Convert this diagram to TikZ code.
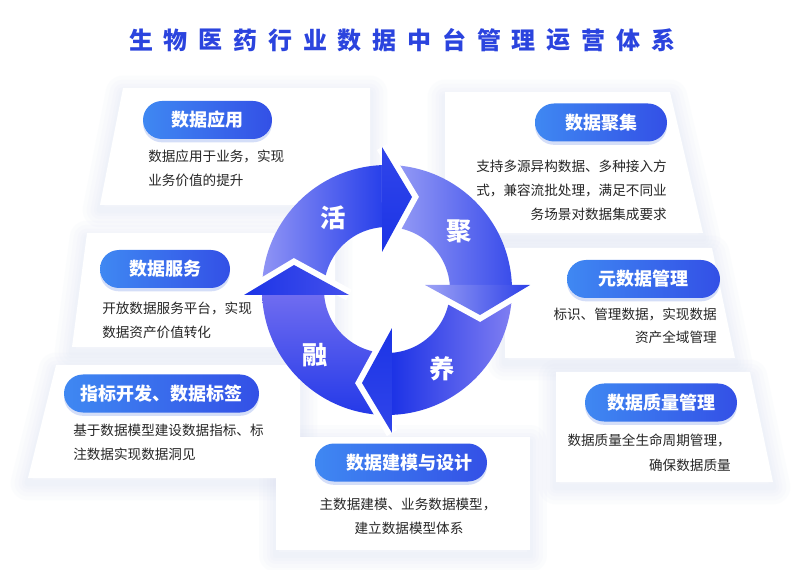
\documentclass[tikz,border=0pt]{standalone}
\usepackage{fontspec}
\setmainfont{Noto Sans CJK SC}
\usetikzlibrary{shadows}
\definecolor{titleC}{HTML}{2B44DE}
\definecolor{descC}{HTML}{262626}
\definecolor{pillL}{HTML}{3F88F2}
\definecolor{pillR}{HTML}{3350E6}
\definecolor{pshadow}{HTML}{C3D0F6}
\definecolor{panelsh}{HTML}{D3DBF0}
\definecolor{huoL}{HTML}{9296F5}
\definecolor{huoR}{HTML}{2840EA}
\definecolor{juT}{HTML}{6F6CF0}
\definecolor{juB}{HTML}{2238E8}
\definecolor{yangR}{HTML}{8280F2}
\definecolor{yangL}{HTML}{1D33E6}
\definecolor{rongL}{HTML}{A0A4F6}
\definecolor{rongR}{HTML}{3A4DEB}
\definecolor{headD}{HTML}{1C34E6}
\definecolor{headO}{HTML}{3045EA}
\definecolor{headL}{HTML}{4450EC}
\definecolor{headRL}{HTML}{9EA3F5}
\definecolor{headRD}{HTML}{2C40E8}
\tikzset{
  titlechar/.style={inner sep=0pt, text=titleC, font=\fontsize{18pt}{20pt}\selectfont\bfseries},
  pill/.style={rounded corners=14.25pt, minimum height=28.5pt, inner sep=0pt, text=white,
    font=\fontsize{13.5pt}{15pt}\selectfont\bfseries, left color=pillL, right color=pillR,
    drop shadow={shadow xshift=0pt, shadow yshift=-2.5pt, fill=pshadow, opacity=0.7}},
  desc/.style={inner sep=0pt, text=descC, font=\fontsize{10.2pt}{12pt}\selectfont},
  cyc/.style={inner sep=0pt, text=white, font=\fontsize{19pt}{20pt}\selectfont\bfseries},
  gapline/.style={draw=white, line width=9pt, line join=miter},
}
\begin{document}
\begin{tikzpicture}[x=0.75pt,y=-0.75pt]
\useasboundingbox (0,0) rectangle (800,570);
\fill[white] (0,0) rectangle (800,570);
% panel shadows
\foreach \ax/\ay/\bx/\by/\cx/\cy/\dx/\dy in {
  123/88/370/88/370/205/100/205,
  87/233/335/233/335/347/72/347,
  56/365/300/365/300/478/28/478,
  276/437/530/437/530/550/276/550,
  445/92/670/92/703/233/445/233,
  505/248/712/248/735/358/505/358,
  556/372/750/372/773/482/556/482}{
  \foreach \w in {26,20,14,9,5}{
    \draw[panelsh, line width=\w pt, opacity=0.07, line join=round]
      (\ax,\ay+5) -- (\bx,\by+5) -- (\cx,\cy+5) -- (\dx,\dy+5) -- cycle;
  }
}
% panel faces
\foreach \ax/\ay/\bx/\by/\cx/\cy/\dx/\dy in {
  123/88/370/88/370/205/100/205,
  87/233/335/233/335/347/72/347,
  56/365/300/365/300/478/28/478,
  276/437/530/437/530/550/276/550,
  445/92/670/92/703/233/445/233,
  505/248/712/248/735/358/505/358,
  556/372/750/372/773/482/556/482}{
  \fill[white] (\ax,\ay) -- (\bx,\by) -- (\cx,\cy) -- (\dx,\dy) -- cycle;
}
% title
\foreach \c [count=\i from 0] in {生,物,医,药,行,业,数,据,中,台,管,理,运,营,体,系}{
  \node[titlechar] (t\i) at (141+34.8*\i,40) {\c};
}
% cycle
\begin{scope}[shift={(387,290)}, yscale=-1]
  % bodies
  \shade[left color=huoL, right color=huoR]
    (182.3:125) arc[start angle=182.3, end angle=92.3, radius=125]
    -- (94.55:63) arc[start angle=94.55, end angle=184.55, radius=63] -- cycle;
  \begin{scope}[rotate=-90]
  \shade[top color=juT, bottom color=juB]
    (182.3:125) arc[start angle=182.3, end angle=92.3, radius=125]
    -- (94.55:63) arc[start angle=94.55, end angle=184.55, radius=63] -- cycle;
  \end{scope}
  \begin{scope}[rotate=-180]
  \shade[left color=yangL, right color=yangR]
    (182.3:125) arc[start angle=182.3, end angle=92.3, radius=125]
    -- (94.55:63) arc[start angle=94.55, end angle=184.55, radius=63] -- cycle;
  \end{scope}
  \begin{scope}[rotate=-270]
  \shade[left color=rongL, right color=rongR]
    (182.3:125) arc[start angle=182.3, end angle=92.3, radius=125]
    -- (94.55:63) arc[start angle=94.55, end angle=184.55, radius=63] -- cycle;
  \end{scope}
  % heads
  \draw[gapline] (-5,143) -- (25,93) -- (-5,38);
  \shade[top color=headO, bottom color=headD] (-5,143) -- (25,93) -- (-5,38) -- cycle;
  \begin{scope}[rotate=-90]
  \draw[gapline] (-5,143) -- (25,93) -- (-5,38);
  \shade[left color=headD, right color=headL] (-5,143) -- (25,93) -- (-5,38) -- cycle;
  \end{scope}
  \begin{scope}[rotate=-180]
  \draw[gapline] (-5,143) -- (25,93) -- (-5,38);
  \shade[top color=headD, bottom color=headO] (-5,143) -- (25,93) -- (-5,38) -- cycle;
  \end{scope}
  \begin{scope}[rotate=-270]
  \draw[gapline] (-5,143) -- (25,93) -- (-5,38);
  \shade[left color=headRL, right color=headRD] (-5,143) -- (25,93) -- (-5,38) -- cycle;
  \end{scope}
\end{scope}
\node[cyc] (huo) at (333,218) {活};
\node[cyc] (ju) at (459,231) {聚};
\node[cyc] (rong) at (315,355) {融};
\node[cyc] (yang) at (442,369) {养};
% pills
\node[pill, minimum width=96.75pt] (p1) at (207.5,120) {数据应用};
\node[pill, minimum width=97.5pt] (p2) at (165,269) {数据服务};
\node[pill, minimum width=146.25pt] (p3) at (161.5,393.5) {指标开发、数据标签};
\node[pill, minimum width=129pt] (p4) at (401,462.5) {\hspace*{12pt}数据建模与设计};
\node[pill, minimum width=99pt] (p5) at (601,122.5) {数据聚集};
\node[pill, minimum width=114.75pt] (p6) at (643.5,279) {元数据管理};
\node[pill, minimum width=114pt] (p7) at (661,402.5) {数据质量管理};
% descriptions
\node[desc, anchor=west] (d1a) at (148,156) {数据应用于业务，实现};
\node[desc, anchor=west] (d1b) at (148,180) {业务价值的提升};
\node[desc, anchor=west] (d2a) at (102,308) {开放数据服务平台，实现};
\node[desc, anchor=west] (d2b) at (102,332) {数据资产价值转化};
\node[desc, anchor=west] (d3a) at (73,430) {基于数据模型建设数据指标、标};
\node[desc, anchor=west] (d3b) at (73,454) {注数据实现数据洞见};
\node[desc] (d4a) at (408,505) {主数据建模、业务数据模型，};
\node[desc] (d4b) at (409,528) {建立数据模型体系};
\node[desc, anchor=east] (d5a) at (667,166) {支持多源异构数据、多种接入方};
\node[desc, anchor=east] (d5b) at (667,190) {式，兼容流批处理，满足不同业};
\node[desc, anchor=east] (d5c) at (667,214) {务场景对数据集成要求};
\node[desc, anchor=east] (d6a) at (717,314) {标识、管理数据，实现数据};
\node[desc, anchor=east] (d6b) at (717,337) {资产全域管理};
\node[desc, anchor=east] (d7a) at (731,440) {数据质量全生命周期管理，};
\node[desc, anchor=east] (d7b) at (731,465) {确保数据质量};
\end{tikzpicture}
\end{document}
